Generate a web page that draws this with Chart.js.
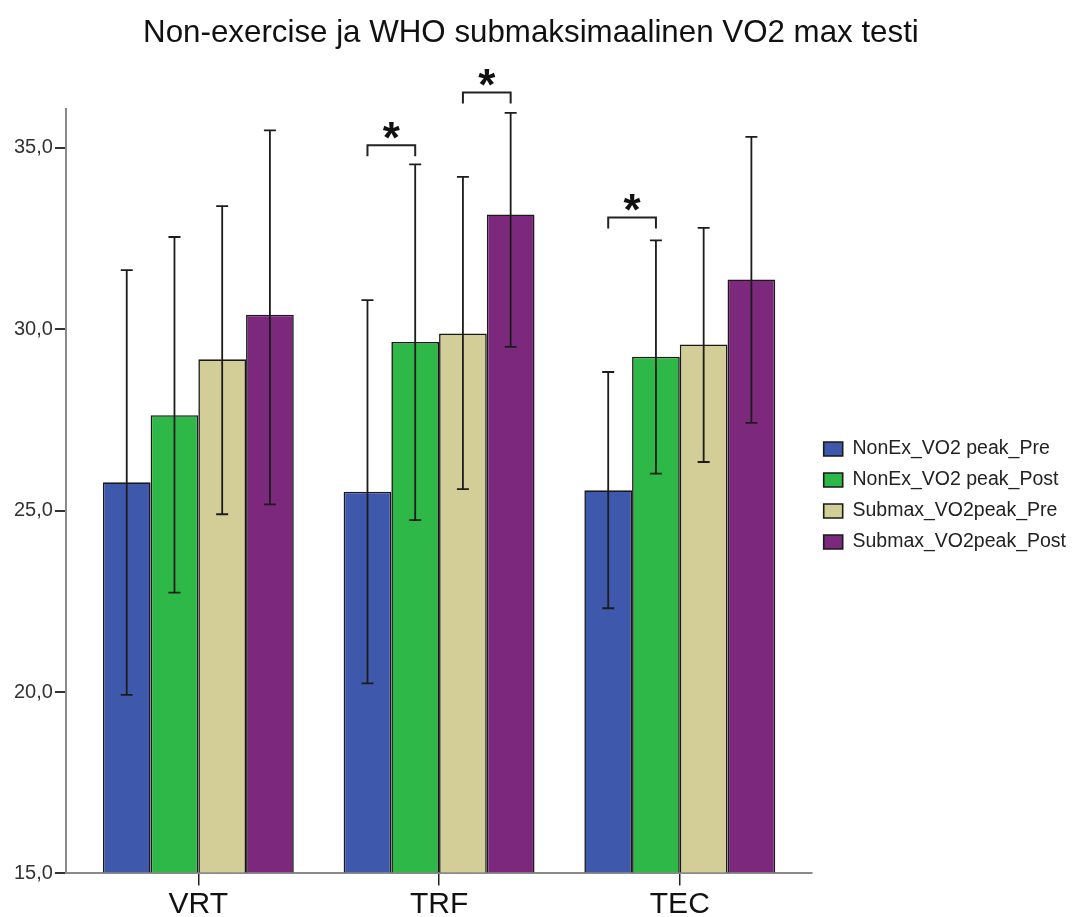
<!DOCTYPE html>
<html>
<head>
<meta charset="utf-8">
<title>Non-exercise ja WHO submaksimaalinen VO2 max testi</title>
<script src="https://cdn.jsdelivr.net/npm/chart.js@4.4.1/dist/chart.umd.min.js"></script>
<style>
    html, body { margin: 0; padding: 0; background: #fff; }
    canvas { display: block; }
</style>
</head>
<body>
<canvas id="vo2Chart" width="1074" height="917"></canvas>
<script>
// Groups on the x axis
const categories = ['VRT', 'TRF', 'TEC'];
const seriesNames = ['NonEx_VO2 peak_Pre', 'NonEx_VO2 peak_Post', 'Submax_VO2peak_Pre', 'Submax_VO2peak_Post'];

// Means
const nonExPre = [25.78, 25.52, 25.56];
const nonExPost = [27.63, 29.65, 29.24];
const submaxPre = [29.17, 29.88, 29.58];
const submaxPost = [30.40, 33.16, 31.37];

// Error bar ends
const nonExPreLow = [19.92, 20.24, 22.31];
const nonExPreHigh = [31.63, 30.80, 28.82];
const nonExPostLow = [22.74, 24.74, 26.02];
const nonExPostHigh = [32.54, 34.54, 32.45];
const submaxPreLow = [24.90, 25.59, 26.34];
const submaxPreHigh = [33.39, 34.20, 32.79];
const submaxPostLow = [25.17, 29.51, 27.42];
const submaxPostHigh = [35.48, 35.96, 35.30];

// y axis
const yMin = 15;
const yMax = 36.08;
const yStep = 5;

// Significance brackets: group index, bar a, bar b, level of the bracket top
const sigBrackets = [
    { group: 1, a: 0, b: 1, level: 35.07 },
    { group: 1, a: 2, b: 3, level: 36.52 },
    { group: 2, a: 0, b: 1, level: 33.08 }
];

const barColors = ['#3e58ac', '#2eb848', '#d3ce97', '#7c287d'];
const meansList = [nonExPre, nonExPost, submaxPre, submaxPost];
const lowList = [nonExPreLow, nonExPostLow, submaxPreLow, submaxPostLow];
const highList = [nonExPreHigh, nonExPostHigh, submaxPreHigh, submaxPostHigh];

// Format 35 -> "35,0"
function formatTick(v) {
    return v.toFixed(1).replace('.', ',');
}

// Draw error bars and significance brackets on top of the bars
const errorBarPlugin = {
    id: 'errorBars',
    afterDatasetsDraw(chart) {
        const ctx = chart.ctx;
        const yScale = chart.scales.y;
        ctx.save();
        ctx.strokeStyle = '#1c1c1c';
        ctx.lineWidth = 1.8;
        chart.data.datasets.forEach((ds, di) => {
            const meta = chart.getDatasetMeta(di);
            meta.data.forEach((bar, i) => {
                const x = bar.x;
                const yLo = yScale.getPixelForValue(lowList[di][i]);
                const yHi = yScale.getPixelForValue(highList[di][i]);
                ctx.beginPath();
                ctx.moveTo(x, yLo);
                ctx.lineTo(x, yHi);
                ctx.moveTo(x - 6, yLo);
                ctx.lineTo(x + 6, yLo);
                ctx.moveTo(x - 6, yHi);
                ctx.lineTo(x + 6, yHi);
                ctx.stroke();
            });
        });

        // brackets with stars
        ctx.strokeStyle = '#222';
        ctx.lineWidth = 2;
        ctx.fillStyle = '#111';
        ctx.font = 'bold 44px "Liberation Sans", Arial, sans-serif';
        ctx.textAlign = 'center';
        ctx.textBaseline = 'alphabetic';
        sigBrackets.forEach(br => {
            const xa = chart.getDatasetMeta(br.a).data[br.group].x;
            const xb = chart.getDatasetMeta(br.b).data[br.group].x;
            const top = yScale.getPixelForValue(br.level);
            ctx.beginPath();
            ctx.moveTo(xa, top + 11);
            ctx.lineTo(xa, top);
            ctx.lineTo(xb, top);
            ctx.lineTo(xb, top + 11);
            ctx.stroke();
            const m = ctx.measureText('*');
            const mid = (m.actualBoundingBoxAscent - m.actualBoundingBoxDescent) / 2;
            ctx.fillText('*', (xa + xb) / 2, top - 15 + mid);
        });
        ctx.restore();
    }
};

function buildDatasets() {
    return seriesNames.map((name, si) => ({
        label: name,
        data: meansList[si].map((v, i) => ({ x: i, y: v })),
        backgroundColor: barColors[si],
        borderColor: '#1a1a1a',
        borderWidth: 1.6,
        borderSkipped: 'start',
        base: yMin,
        categoryPercentage: 0.793,
        barPercentage: 1.0
    }));
}

const ctx = document.getElementById('vo2Chart').getContext('2d');
const vo2Chart = new Chart(ctx, {
    type: 'bar',
    data: { datasets: buildDatasets() },
    options: {
        responsive: false,
        devicePixelRatio: 1,
        animation: false,
        layout: { padding: { left: 12, right: -2, top: 0, bottom: -6 } },
        scales: {
            x: {
                type: 'linear',
                min: -0.55,
                max: 2.55,
                offset: false,
                afterBuildTicks(scale) {
                    scale.ticks = categories.map((c, i) => ({ value: i }));
                },
                ticks: {
                    callback: (v) => categories[v],
                    font: { family: '"Liberation Sans", Arial, sans-serif', size: 30, lineHeight: 0.717 },
                    color: '#111',
                    padding: 8,
                    maxRotation: 0,
                    autoSkip: false
                },
                grid: {
                    offset: false,
                    drawOnChartArea: false,
                    drawTicks: true,
                    tickLength: 12,
                    color: '#222',
                    lineWidth: 1.5
                },
                border: { color: '#8a8a8a', width: 2 }
            },
            y: {
                min: yMin,
                max: yMax,
                ticks: {
                    stepSize: yStep,
                    includeBounds: false,
                    callback: (v) => formatTick(v),
                    font: { family: '"Liberation Sans", Arial, sans-serif', size: 20 },
                    color: '#333',
                    padding: 2
                },
                grid: {
                    drawOnChartArea: false,
                    drawTicks: true,
                    tickLength: 11,
                    color: '#333',
                    lineWidth: 2
                },
                border: { color: '#8a8a8a', width: 2 }
            }
        },
        plugins: {
            title: {
                display: true,
                // trailing spaces nudge the centred title a little to the left
                text: 'Non-exercise ja WHO submaksimaalinen VO2 max testi   ',
                font: { family: '"Liberation Sans", Arial, sans-serif', size: 31.3, weight: 'normal' },
                color: '#111',
                padding: { top: 15, bottom: 56 }
            },
            legend: {
                position: 'right',
                align: 'center',
                title: {
                    display: true,
                    text: ' ',
                    font: { size: 10 },
                    padding: 28
                },
                labels: {
                    boxWidth: 19,
                    boxHeight: 14,
                    padding: 11.5,
                    color: '#222',
                    font: { family: '"Liberation Sans", Arial, sans-serif', size: 19.5 }
                }
            },
            tooltip: { enabled: false }
        }
    },
    plugins: [errorBarPlugin]
});
</script>
</body>
</html>
